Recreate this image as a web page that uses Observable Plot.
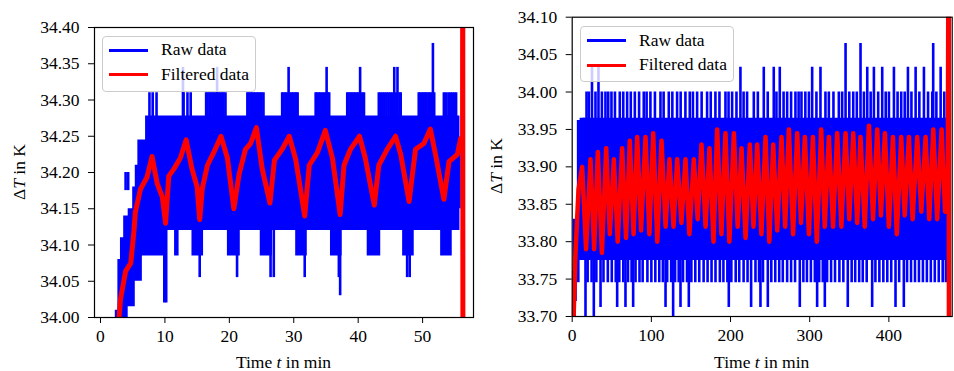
<!DOCTYPE html>
<html><head><meta charset="utf-8">
<script src="https://cdn.jsdelivr.net/npm/d3@7"></script>
<script src="https://cdn.jsdelivr.net/npm/@observablehq/plot@0.6"></script>
<style>
body{margin:0;background:#fff;}
#wrap{position:relative;width:954px;height:371px;font-family:"Liberation Serif","DejaVu Serif",serif;color:#000;overflow:hidden;}
.panel{position:absolute;top:0;}
.lab{position:absolute;font-size:17.5px;white-space:nowrap;line-height:1;}
.ylab{transform:translate(-50%,-50%) rotate(-90deg);}
.xlab{transform:translateX(-50%);}
.legend{position:absolute;border:1px solid #cccccc;border-radius:4px;background:rgba(255,255,255,0.8);box-sizing:border-box;}
.legend .sw{position:absolute;height:3px;}
.legend .tx{position:absolute;font-size:17.5px;line-height:1;white-space:nowrap;transform:translateY(-50%);}
</style></head><body><div id="wrap"></div>
<script>
// ---------- LEFT PANEL DATA ----------
const xTicksL = [0, 10, 20, 30, 40, 50];
const yTicksL = [34.00, 34.05, 34.10, 34.15, 34.20, 34.25, 34.30, 34.35, 34.40];
// raw data: dense band (time, lower edge, upper edge)
const rawBandL_t  = [2.3, 2.7, 3.1, 3.6, 4.3, 5.0, 5.4, 5.8, 6.5, 7.0, 10.3, 11.5, 12.2, 14.2, 16.0, 19.7, 21.7, 24.8, 26.7, 30.3, 32.1, 35.7, 37.5, 41.4, 43.5, 46.9, 48.7, 52.8, 54.6, 55.8, 56.0];
const rawBandL_lo = [33.98, 33.98, 33.98, 33.98, 34.015, 34.015, 34.05, 34.05, 34.085, 34.085, 34.12, 34.085, 34.12, 34.085, 34.12, 34.085, 34.12, 34.085, 34.12, 34.085, 34.12, 34.085, 34.12, 34.085, 34.12, 34.085, 34.12, 34.085, 34.12, 34.15, 34.15];
const rawBandL_hi = [34.01, 34.08, 34.11, 34.14, 34.15, 34.18, 34.21, 34.245, 34.245, 34.278, 34.278, 34.278, 34.278, 34.278, 34.278, 34.278, 34.278, 34.278, 34.278, 34.278, 34.278, 34.278, 34.278, 34.278, 34.278, 34.278, 34.278, 34.278, 34.278, 34.245, 34.245];
// raw data: isolated excursions (time, value)
const rawSpikeL_t = [3.9, 4.3, 7.6, 8.1, 8.7, 12.8, 12.9, 13.5, 14.0, 16.4, 16.9, 17.4, 17.9, 18.1, 18.4, 18.9, 19.4, 22.8, 23.3, 23.8, 24.3, 24.8, 25.3, 28.2, 28.7, 29.2, 29.7, 30.2, 30.6, 33.4, 33.9, 34.4, 35.0, 35.1, 35.5, 38.3, 38.8, 39.3, 39.8, 40.3, 40.9, 43.2, 43.8, 44.4, 45.0, 45.6, 46.1, 46.6, 49.4, 49.9, 50.4, 50.9, 51.4, 51.6, 51.8, 53.3, 54.0, 54.6, 55.2,
                     16.6, 17.1, 17.6, 18.6, 19.1, 23.0, 23.5, 24.0, 24.5, 25.0, 28.4, 28.9, 29.4, 29.9, 30.4, 33.6, 34.1, 34.7, 35.3, 38.5, 39.0, 39.5, 40.0, 40.6, 43.5, 44.1, 44.7, 45.3, 45.9, 46.4, 49.6, 50.1, 50.6, 51.1, 53.6, 54.3, 54.9,
                     9.9, 10.2, 15.4, 21.2, 26.4, 26.9, 31.7, 37.0, 37.2, 47.6, 48.0];
const rawSpikeL_v = [34.175, 34.175, 34.31, 34.31, 34.31, 34.345, 34.31, 34.31, 34.31, 34.31, 34.31, 34.31, 34.31, 34.345, 34.31, 34.31, 34.31, 34.31, 34.31, 34.31, 34.31, 34.31, 34.31, 34.31, 34.31, 34.345, 34.31, 34.31, 34.31, 34.31, 34.31, 34.31, 34.31, 34.345, 34.31, 34.31, 34.31, 34.31, 34.31, 34.345, 34.31, 34.31, 34.31, 34.31, 34.31, 34.345, 34.345, 34.31, 34.31, 34.31, 34.31, 34.31, 34.31, 34.378, 34.31, 34.31, 34.31, 34.31, 34.31,
                     34.31, 34.31, 34.31, 34.31, 34.31, 34.31, 34.31, 34.31, 34.31, 34.31, 34.31, 34.31, 34.31, 34.31, 34.31, 34.31, 34.31, 34.31, 34.31, 34.31, 34.31, 34.31, 34.31, 34.31, 34.31, 34.31, 34.31, 34.31, 34.31, 34.31, 34.31, 34.31, 34.31, 34.31, 34.31, 34.31, 34.31,
                     34.02, 34.02, 34.055, 34.055, 34.055, 34.055, 34.055, 34.055, 34.03, 34.055, 34.055];
// filtered data (time, value)
const filtL_t = [2.8, 3.1, 3.9, 4.7, 5.2, 5.4, 6.2, 7.2, 8.0, 8.8, 9.6, 10.1, 10.6, 11.4, 12.4, 13.3, 14.2, 15.0, 15.4, 15.8, 16.6, 17.6, 18.7, 19.7, 20.7, 21.5, 22.5, 23.3, 24.2, 25.1, 26.3, 27.0, 28.2, 29.3, 30.3, 31.7, 32.4, 33.7, 34.9, 36.0, 37.2, 37.8, 38.8, 40.2, 41.1, 42.5, 43.2, 44.5, 45.8, 46.6, 47.9, 48.9, 50.2, 51.2, 52.0, 53.3, 54.1, 55.4, 55.9, 56.2, 56.23, 56.26];
const filtL_v = [33.99, 34.025, 34.064, 34.075, 34.12, 34.145, 34.177, 34.193, 34.222, 34.185, 34.166, 34.13, 34.195, 34.205, 34.22, 34.245, 34.205, 34.18, 34.135, 34.178, 34.21, 34.228, 34.25, 34.22, 34.15, 34.197, 34.232, 34.24, 34.262, 34.205, 34.158, 34.217, 34.232, 34.25, 34.218, 34.14, 34.21, 34.228, 34.258, 34.22, 34.142, 34.21, 34.232, 34.25, 34.22, 34.155, 34.21, 34.232, 34.25, 34.225, 34.16, 34.232, 34.24, 34.26, 34.225, 34.163, 34.215, 34.225, 34.247, 34.23, 34.6, 33.8];

// ---------- RIGHT PANEL DATA ----------
const xTicksR = [0, 100, 200, 300, 400];
const yTicksR = [33.70, 33.75, 33.80, 33.85, 33.90, 33.95, 34.00, 34.05, 34.10];
const rawBandR_t  = [0.3, 1.5, 5.0, 6.5, 10.0, 474.0];
const rawBandR_lo = [33.69, 33.69, 33.72, 33.745, 33.775, 33.775];
const rawBandR_hi = [33.76, 33.83, 33.83, 33.962, 33.965, 33.965];
// upward excursions of the raw signal
const rawUpR_t = [14.5, 18.1, 21.0, 25.0, 29.4, 33.2, 37.5, 42.0, 45.5, 49.6, 54.0, 60.1, 64.5, 69.4, 74.0, 79.1, 84.5, 90.4, 94.0, 98.8, 104.5, 111.5, 115.5, 122.0, 126.5, 132.5, 137.0, 143.0, 148.5, 152.5, 157.8, 163.5, 170.4, 175.0, 180.9, 186.0, 193.6, 197.5, 202.0, 207.5, 212.5, 216.5, 220.9, 229.4, 234.5, 242.0, 247.0, 254.6, 258.0, 262.2, 267.0, 271.5, 276.5, 282.0, 286.0, 289.6, 294.5, 299.0, 303.1, 308.5, 313.6, 319.9, 324.2, 330.0, 336.8, 341.0, 345.3, 350.0, 355.0, 359.5, 364.2, 368.5, 372.7, 377.0, 381.1, 386.5, 391.6, 396.0, 400.1, 406.4, 411.0, 415.6, 420.0, 424.1, 428.5, 433.8, 438.5, 444.3, 449.5, 454.8, 456.0, 460.0, 465.4, 470.0];
const rawUpR_v = [33.965, 34.00, 34.00, 34.033, 34.00, 34.033, 34.00, 34.00, 34.00, 34.00, 34.00, 34.00, 34.00, 34.00, 34.00, 34.00, 34.00, 34.00, 34.00, 34.00, 34.00, 34.00, 34.00, 34.00, 34.00, 34.00, 34.00, 34.00, 34.00, 34.00, 34.00, 34.00, 34.00, 34.00, 34.00, 34.00, 34.00, 34.00, 34.00, 34.00, 34.033, 34.00, 34.00, 34.00, 34.00, 34.033, 34.00, 34.033, 34.00, 34.033, 34.00, 34.00, 34.00, 34.00, 34.00, 34.00, 34.00, 34.00, 34.033, 34.00, 34.033, 34.00, 34.00, 34.00, 34.00, 34.00, 34.065, 34.00, 34.00, 34.00, 34.065, 34.00, 34.033, 34.00, 34.033, 34.00, 34.033, 34.00, 34.00, 34.033, 34.00, 34.00, 34.00, 34.033, 34.00, 34.033, 34.00, 34.033, 34.00, 34.00, 34.065, 34.00, 34.033, 34.00];
// downward excursions of the raw signal
const rawDnR_t = [16.8, 19.5, 24.5, 27.3, 30.5, 35.8, 39.5, 45.0, 50.0, 55.0, 56.8, 59.5, 64.5, 67.3, 70.5, 75.0, 77.0, 80.0, 85.0, 89.0, 95.0, 100.0, 105.0, 110.0, 114.5, 117.9, 120.0, 125.0, 127.5, 130.0, 134.5, 136.8, 140.0, 145.0, 147.3, 150.5, 155.5, 160.5, 166.0, 171.0, 176.0, 181.0, 186.5, 191.0, 196.0, 197.8, 201.0, 206.5, 211.0, 216.5, 221.5, 226.0, 231.5, 236.0, 237.8, 241.0, 247.1, 251.5, 256.5, 261.5, 266.0, 271.5, 276.5, 281.5, 287.5, 292.0, 296.5, 301.5, 306.5, 309.4, 312.0, 316.5, 319.1, 322.0, 327.0, 332.0, 337.5, 342.5, 348.1, 353.0, 357.5, 362.5, 367.0, 372.0, 378.9, 383.0, 388.0, 393.0, 398.0, 403.0, 408.4, 413.0, 418.9, 423.0, 428.0, 433.0, 438.0, 443.0, 448.0, 453.0, 458.0, 463.0, 468.0, 472.0];
const rawDnR_v = [33.69, 33.745, 33.745, 33.69, 33.745, 33.712, 33.745, 33.745, 33.745, 33.745, 33.712, 33.745, 33.745, 33.712, 33.745, 33.745, 33.712, 33.745, 33.745, 33.745, 33.745, 33.745, 33.745, 33.745, 33.745, 33.712, 33.745, 33.745, 33.69, 33.745, 33.745, 33.712, 33.745, 33.745, 33.712, 33.745, 33.745, 33.745, 33.745, 33.745, 33.745, 33.745, 33.745, 33.745, 33.745, 33.712, 33.745, 33.745, 33.745, 33.745, 33.745, 33.712, 33.745, 33.745, 33.712, 33.745, 33.712, 33.745, 33.745, 33.745, 33.745, 33.745, 33.745, 33.745, 33.712, 33.745, 33.745, 33.745, 33.745, 33.712, 33.745, 33.745, 33.712, 33.745, 33.745, 33.745, 33.745, 33.745, 33.712, 33.745, 33.745, 33.745, 33.745, 33.745, 33.712, 33.745, 33.745, 33.745, 33.745, 33.745, 33.712, 33.745, 33.712, 33.745, 33.745, 33.745, 33.745, 33.745, 33.745, 33.745, 33.745, 33.745, 33.745, 33.745];
const filtR_t = [1.5, 4, 8, 12.6, 17.5, 23.1, 27.7, 32.4, 37.5, 42.9, 47.5, 52.6, 57.5, 63.1, 68, 72.8, 77.5, 82.1, 87, 92.6, 97.5, 102.3, 107.5, 112.8, 118, 122.9, 128, 132.6, 138, 143.1, 148, 153.6, 158.5, 163.3, 168.5, 173.4, 178.5, 183.1, 188.5, 193.6, 198.5, 204.2, 209, 213.9, 219, 224.4, 229, 233.7, 239, 244.2, 249, 253.9, 259, 264.4, 269, 273.7, 279, 284.2, 289, 293.9, 299, 304, 309, 314.5, 319, 324.2, 329.5, 334.7, 340, 345.3, 350, 355, 360, 364.2, 369.5, 374.8, 380, 385.3, 390, 395, 400, 405.1, 410, 415.6, 420, 425.3, 430, 435.8, 441, 446.4, 451, 456.1, 461, 466.6, 471, 474.5, 475.5, 476];
const filtR_v = [33.69, 33.78, 33.87, 33.90, 33.79, 33.91, 33.79, 33.92, 33.785, 33.925, 33.81, 33.91, 33.80, 33.925, 33.805, 33.935, 33.81, 33.94, 33.815, 33.94, 33.81, 33.945, 33.80, 33.935, 33.82, 33.91, 33.82, 33.91, 33.825, 33.91, 33.81, 33.91, 33.83, 33.93, 33.82, 33.925, 33.80, 33.95, 33.81, 33.945, 33.80, 33.945, 33.82, 33.925, 33.805, 33.93, 33.82, 33.93, 33.81, 33.94, 33.80, 33.93, 33.815, 33.94, 33.82, 33.95, 33.81, 33.945, 33.825, 33.94, 33.81, 33.94, 33.80, 33.95, 33.82, 33.94, 33.82, 33.945, 33.82, 33.945, 33.83, 33.945, 33.825, 33.94, 33.82, 33.955, 33.83, 33.95, 33.835, 33.945, 33.82, 33.94, 33.81, 33.94, 33.835, 33.94, 33.83, 33.94, 33.84, 33.94, 33.83, 33.95, 33.83, 33.95, 33.84, 33.90, 34.3, 33.5];

const BLUE = "#0000ff", RED = "#ff0000";
const FONT = '"Liberation Serif","DejaVu Serif",serif';
const rows = (t, a, b) => t.map((x, i) => b ? {t: x, lo: a[i], hi: b[i]} : {t: x, v: a[i]});

function makePanel(o) {
  const band = rows(o.bandT, o.bandLo, o.bandHi);
  const spikes = o.spikes.map(([t, v]) => rows(t, v)).flat();
  const filt = rows(o.filtT, o.filtV);
  const chart = Plot.plot({
    width: o.W, height: o.H,
    marginLeft: o.ml, marginRight: o.mr, marginTop: o.mt, marginBottom: o.mb,
    style: {fontFamily: FONT, fontSize: "17.5px", color: "#000", background: "transparent", overflow: "visible"},
    x: {domain: o.xDomain},
    y: {domain: o.yDomain},
    marks: [
      Plot.areaY(band, {x: "t", y1: "lo", y2: "hi", curve: "step-after", fill: BLUE, clip: true}),
      Plot.ruleX(spikes, {x: "t", y1: o.spikeBase, y2: "v", stroke: BLUE, strokeWidth: o.spikeW, clip: true}),
      Plot.line(filt, {x: "t", y: "v", stroke: RED, strokeWidth: o.filtW, clip: true, strokeLinejoin: "round"}),
      Plot.frame({stroke: "#000", strokeWidth: 1.2}),
      Plot.axisX({ticks: o.xTicks, tickFormat: d3.format("d"), tickSize: 6, tickPadding: 6, label: null, fontSize: 17.5}),
      Plot.axisY({ticks: o.yTicks, tickFormat: d3.format(".2f"), tickSize: 6, tickPadding: 9, label: null, fontSize: 17.5})
    ]
  });
  chart.classList.add("panel");
  chart.style.left = o.left + "px";
  return chart;
}

const wrap = document.getElementById("wrap");
wrap.appendChild(makePanel({
  left: 0, W: 480, H: 371, ml: 94, mr: 7, mt: 27, mb: 54,
  xDomain: [-0.93, 57.9], yDomain: [34.0, 34.4], xTicks: xTicksL, yTicks: yTicksL,
  bandT: rawBandL_t, bandLo: rawBandL_lo, bandHi: rawBandL_hi,
  spikes: [[rawSpikeL_t, rawSpikeL_v]], spikeBase: 34.2, spikeW: 2.6,
  filtT: filtL_t, filtV: filtL_v, filtW: 5
}));
wrap.appendChild(makePanel({
  left: 480, W: 474, H: 371, ml: 91.7, mr: 2.3, mt: 16.7, mb: 55,
  xDomain: [0, 480], yDomain: [33.7, 34.1], xTicks: xTicksR, yTicks: yTicksR,
  bandT: rawBandR_t, bandLo: rawBandR_lo, bandHi: rawBandR_hi,
  spikes: [[rawUpR_t, rawUpR_v], [rawDnR_t, rawDnR_v]], spikeBase: 33.87, spikeW: 2.6,
  filtT: filtR_t, filtV: filtR_v, filtW: 4.5
}));

function addLabel(html, x, y, cls) {
  const d = document.createElement("div");
  d.className = "lab " + cls;
  d.style.left = x + "px"; d.style.top = y + "px";
  d.innerHTML = html;
  wrap.appendChild(d);
}
addLabel("Δ<i>T</i> in K", 20, 172, "ylab");
addLabel("Δ<i>T</i> in K", 497, 166, "ylab");
addLabel("Time <i>t</i> in min", 283.5, 354, "xlab");
addLabel("Time <i>t</i> in min", 761.7, 354, "xlab");

function addLegend(x, y, w, h) {
  const L = document.createElement("div");
  L.className = "legend";
  L.style.left = x + "px"; L.style.top = y + "px"; L.style.width = w + "px"; L.style.height = h + "px";
  const items = [["Raw data", BLUE], ["Filtered data", RED]];
  items.forEach(([name, col], i) => {
    const cy = 13.5 + i * 24.7;
    const s = document.createElement("div");
    s.className = "sw"; s.style.background = col;
    s.style.left = "6px"; s.style.width = "39px"; s.style.top = (cy - 1.5) + "px";
    L.appendChild(s);
    const t = document.createElement("div");
    t.className = "tx"; t.textContent = name;
    t.style.left = "58px"; t.style.top = cy + "px";
    L.appendChild(t);
  });
  wrap.appendChild(L);
}
addLegend(102, 35.7, 154, 56);
addLegend(580, 26, 154, 56);
</script></body></html>
